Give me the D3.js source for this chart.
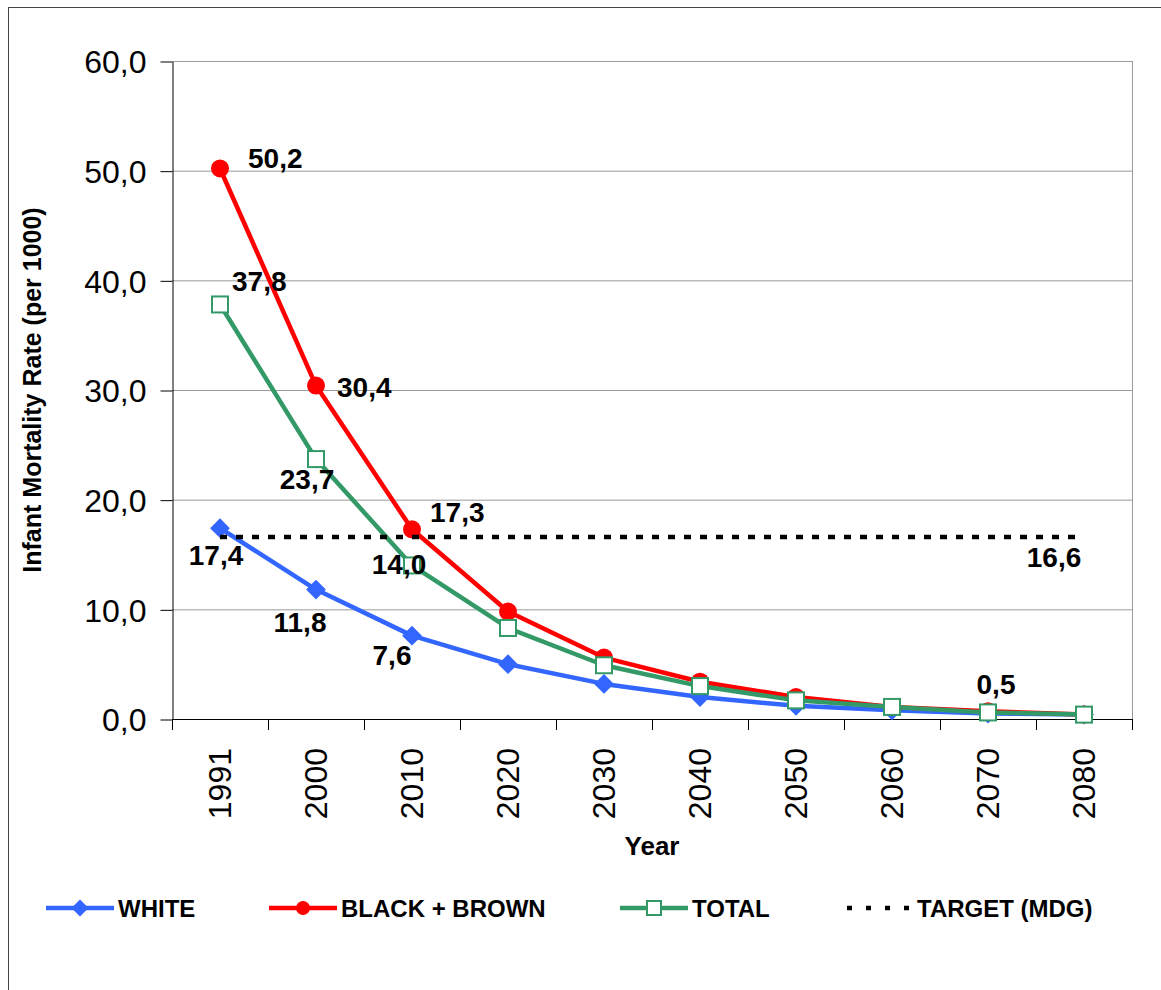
<!DOCTYPE html>
<html>
<head>
<meta charset="utf-8">
<script src="https://cdn.jsdelivr.net/npm/d3@7"></script>
<style>
  body { margin: 0; background: #fff; }
  svg text { font-family: "Liberation Sans", Arial, sans-serif; fill: #000; }
</style>
</head>
<body>
<svg width="1161" height="990"></svg>
<script>
// data
const years = ['1991', '2000', '2010', '2020', '2030', '2040', '2050', '2060', '2070', '2080'];
const white = [17.4, 11.8, 7.6, 5.0, 3.2, 2.0, 1.2, 0.8, 0.5, 0.4];
const blackBrown = [50.2, 30.4, 17.3, 9.8, 5.6, 3.4, 2.0, 1.1, 0.7, 0.4];
const total = [37.8, 23.7, 14.0, 8.3, 4.9, 3.0, 1.7, 1.1, 0.6, 0.4];
const targetValue = 16.6;
const yTicks = [0, 10, 20, 30, 40, 50, 60];
const seriesNames = ['WHITE', 'BLACK + BROWN', 'TOTAL', 'TARGET (MDG)'];

// which points carry a value label, and where the label sits (style only)
const labelSpots = [
  {s: 1, i: 0, dx: 28, dy: 0, anchor: 'start'},
  {s: 2, i: 0, dx: 12, dy: -13, anchor: 'start'},
  {s: 1, i: 1, dx: 21, dy: 11, anchor: 'start'},
  {s: 2, i: 1, dx: -9, dy: 30, anchor: 'middle'},
  {s: 1, i: 2, dx: 18, dy: -7, anchor: 'start'},
  {s: 2, i: 2, dx: -13, dy: 9, anchor: 'middle'},
  {s: 0, i: 0, dx: -4, dy: 37, anchor: 'middle'},
  {s: 0, i: 1, dx: -16, dy: 42, anchor: 'middle'},
  {s: 0, i: 2, dx: -20, dy: 29, anchor: 'middle'},
  {s: 0, i: 8, dx: 8, dy: -20, anchor: 'middle'},
  {s: 3, i: 9, dx: -30, dy: 30, anchor: 'middle'}
];

const colors = ['#3366ff', '#ff0000', '#339966', '#000000'];
const comma = d3.formatLocale({decimal: ',', thousands: '.', grouping: [3], currency: ['', '']}).format('.1f');

const plotLeft = 172, plotRight = 1132, plotTop = 61, plotBottom = 719;

const svg = d3.select('svg');

// outer frame
svg.append('rect')
  .attr('x', 8.5).attr('y', 7.5).attr('width', 1300).attr('height', 1100)
  .attr('fill', 'none').attr('stroke', '#444').attr('stroke-width', 1);

const x = d3.scaleBand().domain(years).range([plotLeft, plotRight]);
const cx = d => x(d) + x.bandwidth() / 2;
const y = d3.scaleLinear().domain([0, 60]).range([plotBottom, plotTop]);

// gridlines
svg.append('g').selectAll('line')
  .data(yTicks.filter(t => t > 0))
  .enter().append('line')
  .attr('x1', plotLeft).attr('x2', plotRight)
  .attr('y1', d => y(d) + 0.5).attr('y2', d => y(d) + 0.5)
  .attr('stroke', '#9a9a9a').attr('stroke-width', 1);

// right border of plot area
svg.append('line')
  .attr('x1', plotRight + 0.5).attr('x2', plotRight + 0.5)
  .attr('y1', plotTop).attr('y2', plotBottom)
  .attr('stroke', '#9a9a9a');

// y axis
const yAxis = svg.append('g')
  .attr('transform', `translate(${plotLeft + 0.5},0.5)`)
  .call(d3.axisLeft(y).tickValues(yTicks).tickFormat(comma).tickSize(12).tickSizeOuter(0).tickPadding(14));
yAxis.select('.domain').attr('stroke', '#000');
yAxis.selectAll('.tick line').attr('stroke', '#000');
yAxis.selectAll('.tick text')
  .style('font-size', '32px').attr('dy', '0.35em');

// x axis: ticks between categories
const xg = svg.append('g');
xg.append('line')
  .attr('x1', plotLeft).attr('x2', plotRight + 1)
  .attr('y1', plotBottom + 0.5).attr('y2', plotBottom + 0.5)
  .attr('stroke', '#000');
xg.selectAll('.tk')
  .data(years.map(d => x(d)).concat([x.range()[1]]))
  .enter().append('line')
  .attr('x1', d => d + 0.5).attr('x2', d => d + 0.5)
  .attr('y1', plotBottom).attr('y2', plotBottom + 11)
  .attr('stroke', '#000');
xg.selectAll('text')
  .data(years)
  .enter().append('text')
  .attr('transform', d => `translate(${cx(d) + 11},${plotBottom + 29}) rotate(-90)`)
  .attr('text-anchor', 'end')
  .style('font-size', '32px')
  .text(d => d);

// axis titles
svg.append('text')
  .attr('transform', `translate(41,${(plotTop + plotBottom) / 2}) rotate(-90)`)
  .attr('text-anchor', 'middle')
  .style('font-size', '25px').style('font-weight', 'bold')
  .text('Infant Mortality Rate (per 1000)');
svg.append('text')
  .attr('x', (plotLeft + plotRight) / 2).attr('y', 855)
  .attr('text-anchor', 'middle')
  .style('font-size', '26px').style('font-weight', 'bold')
  .text('Year');

// series
const allSeries = [white, blackBrown, total];
const line = d3.line().x((d, i) => cx(years[i])).y(d => y(d));

const marker = (g, s, size) => {
  if (s === 0) {
    g.append('path').attr('d', d3.symbol(d3.symbolSquare, size * size)())
      .attr('transform', 'rotate(45)').attr('fill', colors[0]);
  } else if (s === 1) {
    g.append('circle').attr('r', size / 2).attr('fill', colors[1]);
  } else if (s === 2) {
    g.append('rect').attr('x', -size / 2).attr('y', -size / 2)
      .attr('width', size).attr('height', size)
      .attr('fill', '#fff').attr('stroke', colors[2]).attr('stroke-width', 2);
  }
};
const markerSize = [14, 18, 16];

allSeries.forEach((vals, s) => {
  const g = svg.append('g');
  g.append('path').datum(vals)
    .attr('d', line)
    .attr('fill', 'none').attr('stroke', colors[s]).attr('stroke-width', 4.5)
    .attr('stroke-linejoin', 'round');
  g.selectAll('g.m').data(vals).enter().append('g')
    .attr('transform', (d, i) => `translate(${cx(years[i])},${y(d)})`)
    .each(function () { marker(d3.select(this), s, markerSize[s]); });
});

// target line
svg.append('line')
  .attr('x1', cx(years[0])).attr('x2', cx(years[years.length - 1]))
  .attr('y1', y(targetValue)).attr('y2', y(targetValue))
  .attr('stroke', '#000').attr('stroke-width', 4.5)
  .attr('stroke-dasharray', '7 9');

// value labels
const valueOf = (s, i) => s === 3 ? targetValue : allSeries[s][i];
svg.append('g').selectAll('text')
  .data(labelSpots)
  .enter().append('text')
  .attr('x', d => cx(years[d.i]) + d.dx)
  .attr('y', d => y(valueOf(d.s, d.i)) + d.dy)
  .attr('text-anchor', d => d.anchor)
  .style('font-size', '28px').style('font-weight', 'bold')
  .text(d => comma(valueOf(d.s, d.i)));

// legend
const legendX = [46, 269, 620, 847];
const legendY = 908;
const lg = svg.append('g');
seriesNames.forEach((name, s) => {
  const g = lg.append('g').attr('transform', `translate(${legendX[s]},${legendY})`);
  if (s < 3) {
    g.append('line').attr('x1', 0).attr('x2', 68).attr('y1', 0).attr('y2', 0)
      .attr('stroke', colors[s]).attr('stroke-width', 4.5);
    const m = g.append('g').attr('transform', 'translate(34,0)');
    marker(m, s, s === 0 ? 12 : 14);
    g.append('text').attr('x', 72).attr('y', 9)
      .style('font-size', '24px').style('font-weight', 'bold').text(name);
  } else {
    g.append('line').attr('x1', 0).attr('x2', 62).attr('y1', 0).attr('y2', 0)
      .attr('stroke', '#000').attr('stroke-width', 4.5).attr('stroke-dasharray', '5 14');
    g.append('text').attr('x', 70).attr('y', 9)
      .style('font-size', '24px').style('font-weight', 'bold').text(name);
  }
});
</script>
</body>
</html>
